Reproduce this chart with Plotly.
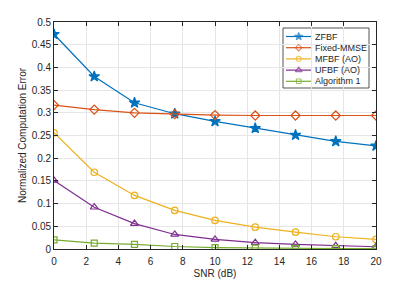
import plotly.graph_objects as go

snr = [0, 2.5, 5, 7.5, 10, 12.5, 15, 17.5, 20]
zfbf = [0.473, 0.380, 0.322, 0.298, 0.281, 0.266, 0.251, 0.237, 0.227]
fixed_mmse = [0.317, 0.307, 0.300, 0.297, 0.295, 0.294, 0.294, 0.294, 0.294]
mfbf = [0.256, 0.169, 0.118, 0.085, 0.063, 0.048, 0.037, 0.027, 0.021]
ufbf = [0.151, 0.092, 0.056, 0.032, 0.021, 0.014, 0.010, 0.007, 0.005]
alg1 = [0.020, 0.013, 0.010, 0.0055, 0.003, 0.002, 0.0015, 0.001, 0.001]

names = ["ZFBF", "Fixed-MMSE", "MFBF (AO)", "UFBF (AO)", "Algorithm 1"]
values = [zfbf, fixed_mmse, mfbf, ufbf, alg1]
colors = ["#0072BD", "#D95319", "#EDB120", "#7E2F8E", "#77AC30"]
symbols = ["star", "diamond-open", "circle-open", "triangle-up-open", "square-open"]
sizes = [8, 7, 6.5, 7, 6]

fig = go.Figure()
for name, vals, color, sym, sz in zip(names, values, colors, symbols, sizes):
    fig.add_trace(go.Scatter(
        x=snr, y=vals, name=name, mode="lines+markers", showlegend=False,
        line=dict(color=color, width=1.2),
        marker=dict(symbol=sym, size=sz, color=color,
                    line=dict(color=color, width=1.2)),
    ))

# Custom compact legend (MATLAB style) in plot-area (paper) coordinates
PW, PH, PL, PT = 322.0, 227.0, 54.0, 22.0
def px_x(px):
    return (px - PL) / PW
def px_y(py):
    return (PT + PH - py) / PH

shapes = [dict(type="rect", xref="paper", yref="paper",
               x0=px_x(283), x1=px_x(369), y0=px_y(88), y1=px_y(28),
               fillcolor="white", line=dict(color="#262626", width=0.8), layer="between")]
annotations = []
lx, ly = [], []
for i, (name, color) in enumerate(zip(names, colors)):
    yy = px_y(36.5 + 11.2 * i)
    shapes.append(dict(type="line", xref="paper", yref="paper",
                       x0=px_x(286), x1=px_x(311.5), y0=yy, y1=yy,
                       line=dict(color=color, width=1.2), layer="between"))
    annotations.append(dict(xref="paper", yref="paper", x=px_x(313), y=yy,
                            text=name, showarrow=False, xanchor="left", yanchor="middle",
                            font=dict(size=9, color="#262626")))
    lx.append(px_x(298.7))
    ly.append(yy)

fig.add_trace(go.Scatter(
    x=lx, y=ly, xaxis="x2", yaxis="y2", mode="markers", showlegend=False,
    hoverinfo="skip",
    marker=dict(symbol=symbols, size=[6, 5, 5, 6, 4.5], color=colors,
                line=dict(color=colors, width=1.1)),
))

axis_common = dict(
    showline=True, linecolor="#262626", linewidth=0.8, mirror="ticks",
    ticks="inside", ticklen=4, tickcolor="#262626", automargin=False,
    showgrid=True, gridcolor="#e6e6e6", gridwidth=1, zeroline=False,
    tickfont=dict(size=10, color="#262626"),
)

fig.update_layout(
    width=415, height=281,
    margin=dict(l=54, r=39, t=22, b=32),
    paper_bgcolor="white", plot_bgcolor="white",
    font=dict(family="Liberation Sans, Arial, sans-serif", size=10, color="#262626"),
    xaxis=dict(range=[0, 20], tickvals=[0, 2, 4, 6, 8, 10, 12, 14, 16, 18, 20],
               ticklabelstandoff=3,
               title=dict(text="SNR (dB)", font=dict(size=10), standoff=4), **axis_common),
    yaxis=dict(range=[0, 0.5], tickvals=[0, 0.05, 0.1, 0.15, 0.2, 0.25, 0.3, 0.35, 0.4, 0.45, 0.5],
               ticktext=["0", "0.05", "0.1", "0.15", "0.2", "0.25", "0.3", "0.35", "0.4", "0.45", "0.5"],
               title=dict(text="Normalized Computation Error", font=dict(size=10), standoff=3), **axis_common),
    xaxis2=dict(overlaying="x", range=[0, 1], visible=False, fixedrange=True),
    yaxis2=dict(overlaying="y", range=[0, 1], visible=False, fixedrange=True),
    shapes=shapes,
    annotations=annotations,
    showlegend=False,
)

fig.write_html("out.html", config={"displayModeBar": False},
               post_script="document.body.style.margin='0';")
